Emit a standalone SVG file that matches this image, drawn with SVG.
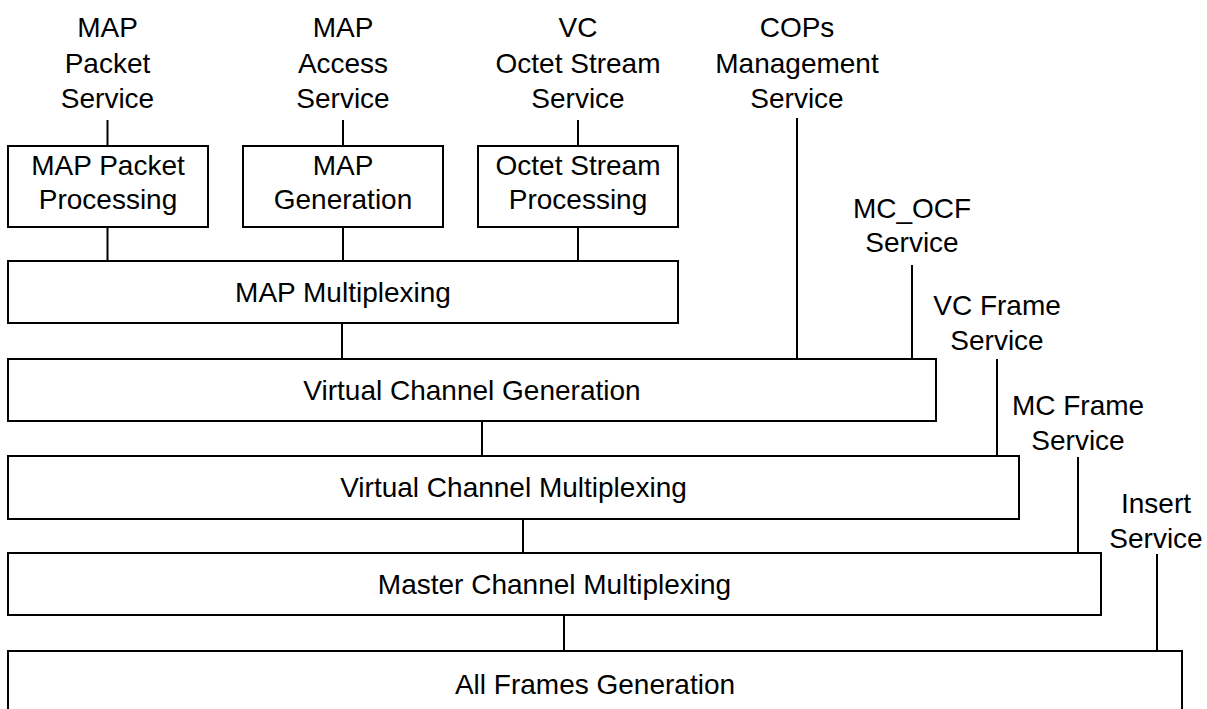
<svg xmlns="http://www.w3.org/2000/svg" width="1207" height="709" viewBox="0 0 1207 709">
<style>
.box{fill:#fff;stroke:#000;stroke-width:2}
.ln{stroke:#000;stroke-width:2;fill:none}
text{font-family:"Liberation Sans",Arial,sans-serif;font-size:28px;fill:#000;text-anchor:middle}
</style>
<rect width="1207" height="709" fill="#fff"/>
<g id="connectors">
<line class="ln" x1="107.5" y1="120" x2="107.5" y2="146"/>
<line class="ln" x1="107.5" y1="227" x2="107.5" y2="261"/>
<line class="ln" x1="343" y1="120" x2="343" y2="146"/>
<line class="ln" x1="343" y1="227" x2="343" y2="261"/>
<line class="ln" x1="578" y1="120" x2="578" y2="146"/>
<line class="ln" x1="578" y1="227" x2="578" y2="261"/>
<line class="ln" x1="342" y1="323" x2="342" y2="359"/>
<line class="ln" x1="797" y1="118" x2="797" y2="359"/>
<line class="ln" x1="912" y1="265" x2="912" y2="359"/>
<line class="ln" x1="482" y1="421" x2="482" y2="456"/>
<line class="ln" x1="997" y1="359" x2="997" y2="456"/>
<line class="ln" x1="523" y1="519" x2="523" y2="553"/>
<line class="ln" x1="1078" y1="457" x2="1078" y2="553"/>
<line class="ln" x1="564" y1="615" x2="564" y2="651"/>
<line class="ln" x1="1157" y1="554" x2="1157" y2="651"/>
</g>
<g id="lbl-map-packet-service"><text x="107.5" y="37">MAP</text><text x="107.5" y="73">Packet</text><text x="107.5" y="108">Service</text></g>
<g id="lbl-map-access-service"><text x="343" y="37">MAP</text><text x="343" y="73">Access</text><text x="343" y="108">Service</text></g>
<g id="lbl-vc-octet-service"><text x="578" y="37">VC</text><text x="578" y="73">Octet Stream</text><text x="578" y="108">Service</text></g>
<g id="lbl-cops"><text x="797" y="37">COPs</text><text x="797" y="73">Management</text><text x="797" y="108">Service</text></g>
<g id="lbl-mcocf"><text x="912" y="218">MC_OCF</text><text x="912" y="252">Service</text></g>
<g id="lbl-vcframe"><text x="997" y="315">VC Frame</text><text x="997" y="350">Service</text></g>
<g id="lbl-mcframe"><text x="1078" y="415">MC Frame</text><text x="1078" y="450">Service</text></g>
<g id="lbl-insert"><text x="1156" y="513">Insert</text><text x="1156" y="548">Service</text></g>
<g id="map-packet-processing"><rect class="box" x="8" y="146" width="200" height="81"/><text x="108" y="175">MAP Packet</text><text x="108" y="208.5">Processing</text></g>
<g id="map-generation"><rect class="box" x="243" y="146" width="200" height="81"/><text x="343" y="175">MAP</text><text x="343" y="208.5">Generation</text></g>
<g id="octet-stream-processing"><rect class="box" x="478" y="146" width="200" height="81"/><text x="578" y="175">Octet Stream</text><text x="578" y="208.5">Processing</text></g>
<g id="map-multiplexing"><rect class="box" x="8" y="261" width="670" height="62"/><text x="343" y="302">MAP Multiplexing</text></g>
<g id="vc-generation"><rect class="box" x="8" y="359" width="928" height="62"/><text x="472" y="400">Virtual Channel Generation</text></g>
<g id="vc-multiplexing"><rect class="box" x="8" y="456" width="1011" height="63"/><text x="513.5" y="497">Virtual Channel Multiplexing</text></g>
<g id="mc-multiplexing"><rect class="box" x="8" y="553" width="1093" height="62"/><text x="554.5" y="594">Master Channel Multiplexing</text></g>
<g id="all-frames-generation"><rect class="box" x="8" y="651" width="1174" height="66"/><text x="595" y="694">All Frames Generation</text></g>
</svg>
